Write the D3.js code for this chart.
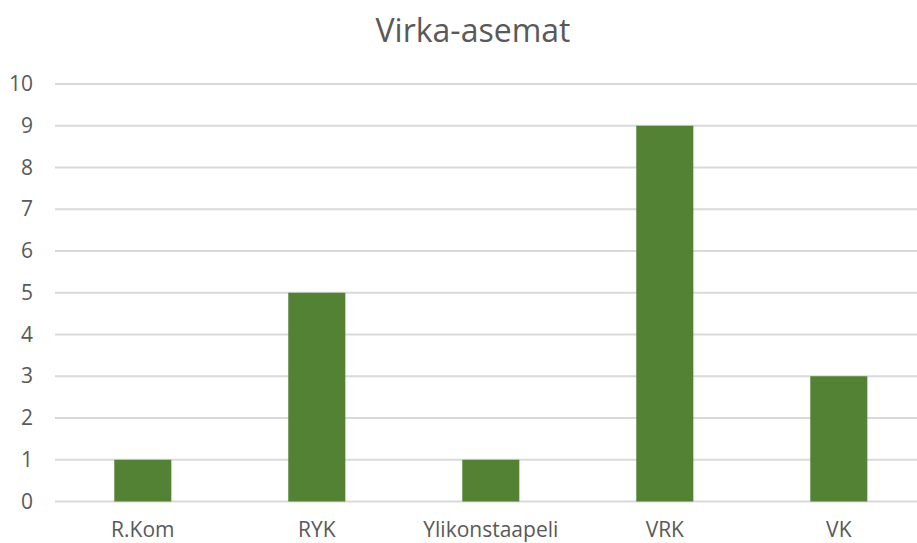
<!DOCTYPE html>
<html>
<head>
<meta charset="utf-8">
<script src="https://cdn.jsdelivr.net/npm/d3@7"></script>
<style>
  body { margin: 0; background: #fff; }
  svg { display: block; }
  text { font-family: "Open Sans", sans-serif; fill: #595959; }
</style>
</head>
<body>
<div id="chart"></div>
<script>
// chart data
var categories = ["R.Kom", "RYK", "Ylikonstaapeli", "VRK", "VK"];
var values = [1, 5, 1, 9, 3];
var yTicks = [0, 1, 2, 3, 4, 5, 6, 7, 8, 9, 10];
var chartTitle = "Virka-asemat";

var svgWidth = 917;
var svgHeight = 543;

var svg = d3.select("#chart")
  .append("svg")
  .attr("width", svgWidth)
  .attr("height", svgHeight);

// x scale - band centres about 174px apart
var xBand = d3.scaleBand()
  .domain(categories)
  .range([55.8, 925.8])
  .paddingInner(0.672)
  .paddingOuter(0.336);

var yLinear = d3.scaleLinear()
  .domain([0, 10])
  .range([501.5, 84]);

// gridlines
svg.append("g")
  .selectAll("line")
  .data(yTicks)
  .enter()
  .append("line")
  .attr("x1", 55)
  .attr("x2", svgWidth)
  .attr("y1", d => yLinear(d))
  .attr("y2", d => yLinear(d))
  .attr("stroke", "#d9d9d9")
  .attr("stroke-width", 2);

// y axis labels
var yAxis = d3.axisLeft(yLinear)
  .tickValues(yTicks)
  .tickSize(0)
  .tickPadding(0);

var yG = svg.append("g")
  .attr("transform", "translate(33,0)")
  .call(yAxis);
yG.select(".domain").remove();
yG.selectAll("text")
  .attr("font-size", "21px")
  .attr("font-family", "Open Sans")
  .attr("fill", "#595959");

// bars
svg.append("g")
  .selectAll("rect")
  .data(values)
  .enter()
  .append("rect")
  .attr("x", (d, i) => xBand(categories[i]))
  .attr("width", xBand.bandwidth())
  .attr("y", d => yLinear(d))
  .attr("height", d => yLinear(0) - yLinear(d))
  .attr("fill", "#548235");

// x axis labels
var xAxis = d3.axisBottom(xBand)
  .tickSize(0)
  .tickPadding(0);

var xG = svg.append("g")
  .attr("transform", "translate(0,522)")
  .call(xAxis);
xG.select(".domain").remove();
xG.selectAll("text")
  .attr("font-size", "21px")
  .attr("font-family", "Open Sans")
  .attr("fill", "#595959");

// title
svg.append("text")
  .attr("x", 473)
  .attr("y", 42)
  .attr("text-anchor", "middle")
  .attr("font-size", "32px")
  .text(chartTitle);
</script>
</body>
</html>
